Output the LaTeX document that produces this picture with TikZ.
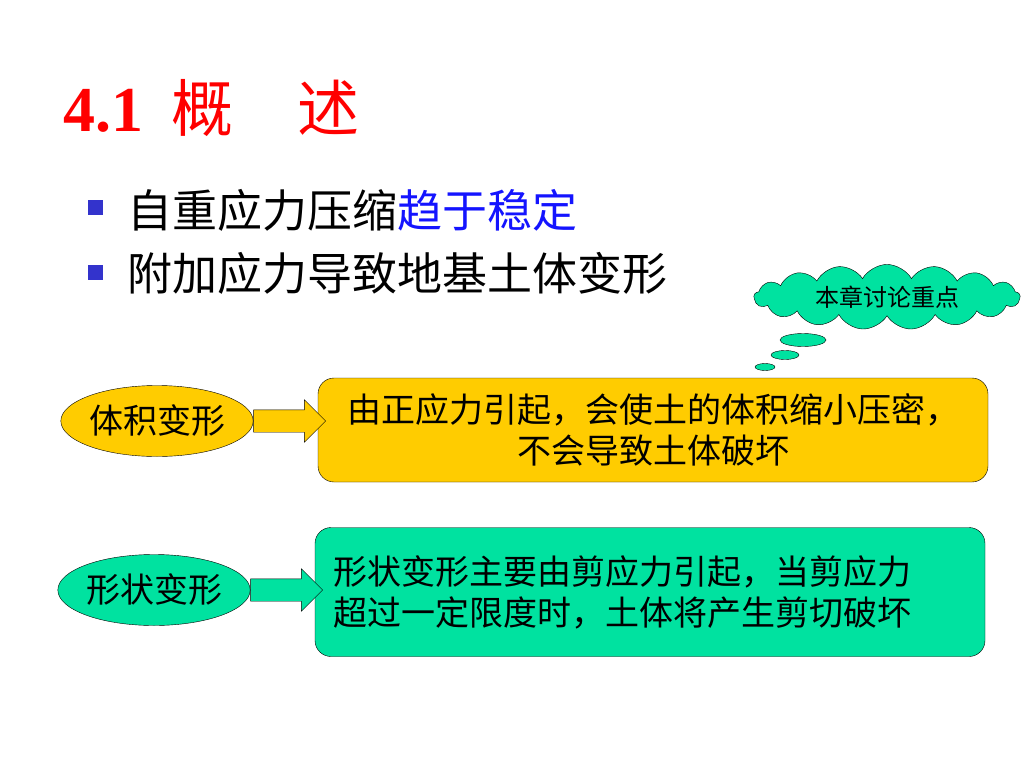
\documentclass[tikz,border=0pt]{standalone}
\usepackage{fontspec}
\setmainfont{Liberation Serif}
\newfontfamily\cjk{Noto Sans CJK SC}
\usetikzlibrary{positioning,shapes.geometric,shapes.symbols,shapes.arrows}

\definecolor{gold}{RGB}{255,204,0}
\definecolor{mint}{RGB}{0,226,160}
\definecolor{bulletblue}{RGB}{51,51,204}
\definecolor{textblue}{RGB}{20,20,255}

\begin{document}
\begin{tikzpicture}[x=1pt, y=-1pt,
	kind/.style = {draw, ellipse, inner sep=0pt, minimum width=178pt, minimum height=71pt, font=\cjk\fontsize{34}{40}\selectfont},
	info/.style = {draw, rounded corners=16pt, inner xsep=18pt, inner ysep=0pt, text width=634pt, font=\cjk\fontsize{34}{41}\selectfont},
	fatarrow/.style = {draw, single arrow, inner sep=0pt, inner ysep=11pt, single arrow head extend=10pt, minimum height=72pt, anchor=west},
	bullet/.style = {fill=bulletblue, minimum size=15pt, inner sep=0pt},
	item/.style = {anchor=west, inner sep=0pt, font=\cjk\fontsize{45}{50}\selectfont},
	puff/.style = {draw, ellipse, fill=mint, inner sep=0pt}]
	\useasboundingbox (0,0) rectangle (1024,768);

	% title and bullets
	\node[anchor=west, inner sep=0pt, text=red] (title) at (63,108) {\fontsize{64}{70}\selectfont\bfseries 4.1\hspace{28pt}{\cjk\mdseries\fontsize{62}{70}\selectfont 概\hspace{64pt}述}};
	\node[bullet] (b1) at (95,207) {};
	\node[item] (i1) at (127,210) {自重应力压缩\textcolor{textblue}{趋于稳定}};
	\node[bullet] (b2) at (95,272) {};
	\node[item] (i2) at (127,273) {附加应力导致地基土体变形};

	% note
	\node[draw, fill=mint, cloud, cloud puffs=17, cloud puff arc=120, aspect=4.6, minimum width=266pt, minimum height=58pt, inner sep=0pt,
		font=\cjk\fontsize{24}{26}\selectfont] (focus) at (887,297) {本章讨论重点};
	\node[puff, minimum width=46pt, minimum height=13pt] (p1) at (803,340) {};
	\node[puff, minimum width=28pt, minimum height=9pt] (p2) at (785,355) {};
	\node[puff, minimum width=20pt, minimum height=7pt] (p3) at (765,367) {};

	% volume change
	\node[kind, fill=gold] (V) at (157,421) {体积变形};
	\node[info, fill=gold, minimum height=104pt, align=center] (Vtext) at (653,430) {由正应力引起，会使土的体积缩小压密，\\不会导致土体破坏};
	\node[fatarrow, fill=gold] (Varrow) at (V.east) {};

	% shape change
	\node[kind, fill=mint] (S) at (154,590) {形状变形};
	\node[info, fill=mint, minimum height=129pt, align=left] (Stext) at (650,592) {形状变形主要由剪应力引起，当剪应力\\超过一定限度时，土体将产生剪切破坏};
	\node[fatarrow, fill=mint] (Sarrow) at (S.east) {};
\end{tikzpicture}
\end{document}
